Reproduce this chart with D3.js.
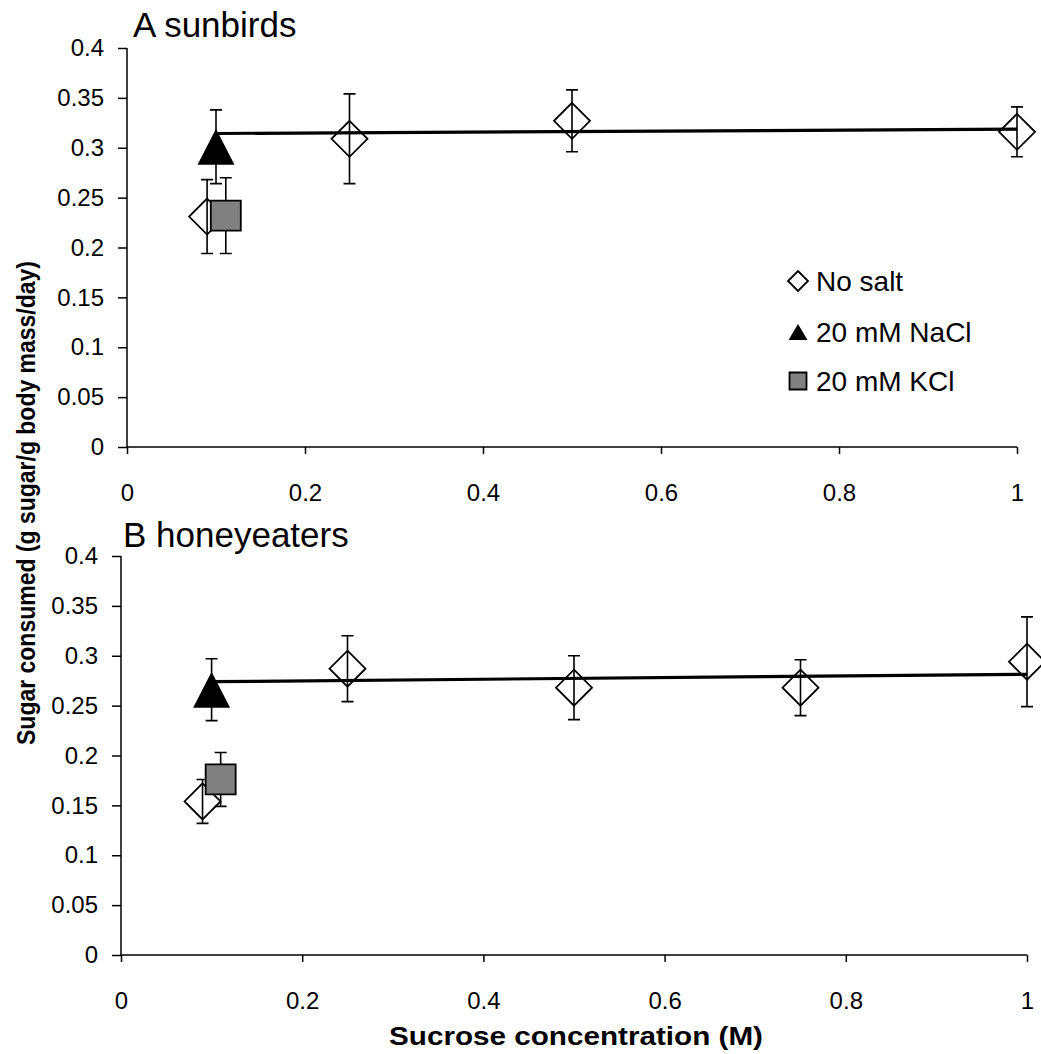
<!DOCTYPE html>
<html>
<head>
<meta charset="utf-8">
<script src="https://cdn.jsdelivr.net/npm/d3@7"></script>
<style>
  body { margin: 0; background: #fff; }
  svg { font-family: 'Liberation Sans', Arial, sans-serif; }
</style>
</head>
<body>
<div id="chart"></div>
<script>
const xTicks = [0, 0.2, 0.4, 0.6, 0.8, 1];
const yTicks = [0, 0.05, 0.1, 0.15, 0.2, 0.25, 0.3, 0.35, 0.4];

// panel A: sunbirds
const sunConc = [0.09, 0.25, 0.5, 1];
const sunNoSalt = [0.231, 0.309, 0.327, 0.316];
const sunNoSaltErr = [0.037, 0.045, 0.031, 0.025];
const sunNaCl = [0.1, 0.301, 0.037];
const sunKCl = [0.111, 0.232, 0.038];
const sunTrend = [[0.1, 0.3143], [1, 0.3186]];

// panel B: honeyeaters
const honConc = [0.09, 0.25, 0.5, 0.75, 1];
const honNoSalt = [0.154, 0.287, 0.268, 0.268, 0.294];
const honNoSaltErr = [0.022, 0.033, 0.032, 0.028, 0.045];
const honNaCl = [0.1, 0.266, 0.031];
const honKCl = [0.11, 0.176, 0.027];
const honTrend = [[0.1, 0.274], [1, 0.2814]];

const legendLabels = ['No salt', '20 mM NaCl', '20 mM KCl'];

const svg = d3.select('#chart')
  .append('svg')
    .attr('width', 1041)
    .attr('height', 1054);

const diamond = r => `M0,${-r}L${r},0L0,${r}L${-r},0Z`;
const triangle = (w, h) => `M0,${-h / 2}L${w / 2},${h / 2}L${-w / 2},${h / 2}Z`;
const square = s => `M${-s / 2},${-s / 2}h${s}v${s}h${-s}Z`;

function panel(opts) {
  const x = d3.scaleLinear().domain([0, 1]).range([opts.left, opts.right]);
  const y = d3.scaleLinear().domain([0, 0.4]).range([opts.bottom, opts.bottom - 399]);

  const g = svg.append('g');

  // axes
  const axisY = d3.axisLeft(y)
    .tickValues(yTicks)
    .tickSize(9)
    .tickPadding(14)
    .tickFormat(d => String(+d.toFixed(2)));
  const gy = g.append('g')
    .attr('transform', `translate(${opts.left},0)`)
    .call(axisY);

  const axisX = d3.axisBottom(x)
    .tickValues(xTicks)
    .tickSize(7)
    .tickPadding(30)
    .tickFormat(d => String(d));
  const gx = g.append('g')
    .attr('transform', `translate(0,${opts.bottom})`)
    .call(axisX);

  [gx, gy].forEach(a => {
    a.select('.domain').attr('stroke', '#000').attr('stroke-width', 1.5);
    a.selectAll('.tick line').attr('stroke', '#000').attr('stroke-width', 1.5);
    a.selectAll('.tick text')
      .attr('fill', '#000')
      .style('font-size', '24px')
      .style('font-family', "'Liberation Sans', Arial, sans-serif");
  });
  gx.select('.domain').attr('d', `M${opts.left},0H${opts.right}`);
  gy.select('.domain').attr('d', `M0,${y(0.4)}V${opts.bottom}`);

  g.append('text')
    .attr('x', opts.titleX)
    .attr('y', opts.titleY)
    .style('font-size', '35px')
    .text(opts.title);

  // error bars
  const bars = opts.conc.map((c, i) => [c, opts.noSalt[i], opts.noSaltErr[i]])
    .concat([opts.nacl, opts.kcl]);
  const eb = g.append('g')
    .attr('stroke', '#000')
    .attr('stroke-width', 1.6)
    .attr('fill', 'none');
  bars.forEach(([cx, cy, e]) => {
    eb.append('path')
      .attr('d', `M${x(cx)},${y(cy - e)}V${y(cy + e)}` +
        `M${x(cx) - 6},${y(cy + e)}h12M${x(cx) - 6},${y(cy - e)}h12`);
  });

  // trend line
  g.append('path')
    .attr('d', d3.line().x(d => x(d[0])).y(d => y(d[1]))(opts.trend))
    .attr('stroke', '#000')
    .attr('stroke-width', 3.2)
    .attr('fill', 'none');

  // markers
  g.append('g')
    .selectAll('path')
    .data(opts.conc)
    .enter()
    .append('path')
      .attr('transform', (d, i) => `translate(${x(d)},${y(opts.noSalt[i])})`)
      .attr('d', diamond(18))
      .attr('fill', 'none')
      .attr('stroke', '#000')
      .attr('stroke-width', 1.8);

  g.append('path')
    .attr('transform', `translate(${x(opts.nacl[0])},${y(opts.nacl[1])})`)
    .attr('d', triangle(37, 36))
    .attr('fill', '#000');

  g.append('path')
    .attr('transform', `translate(${x(opts.kcl[0])},${y(opts.kcl[1])})`)
    .attr('d', square(30))
    .attr('fill', '#808080')
    .attr('stroke', '#000')
    .attr('stroke-width', 1.8);

  return g;
}

panel({
  left: 127, right: 1017, bottom: 447,
  title: 'A sunbirds', titleX: 133, titleY: 37,
  conc: sunConc, noSalt: sunNoSalt, noSaltErr: sunNoSaltErr,
  nacl: sunNaCl, kcl: sunKCl, trend: sunTrend,
});

panel({
  left: 121, right: 1027, bottom: 955,
  title: 'B honeyeaters', titleX: 123, titleY: 547,
  conc: honConc, noSalt: honNoSalt, noSaltErr: honNoSaltErr,
  nacl: honNaCl, kcl: honKCl, trend: honTrend,
});

// legend
const legend = svg.append('g').attr('transform', 'translate(798,0)');
const legendRows = [281, 332, 381];
const legendMarks = [
  { d: diamond(10), fill: '#fff' },
  { d: triangle(19, 16), fill: '#000' },
  { d: square(17), fill: '#808080' },
];
legendLabels.forEach((label, i) => {
  legend.append('path')
    .attr('transform', `translate(0,${legendRows[i]})`)
    .attr('d', legendMarks[i].d)
    .attr('fill', legendMarks[i].fill)
    .attr('stroke', '#000')
    .attr('stroke-width', i === 1 ? 0 : 1.8);
  legend.append('text')
    .attr('x', 18)
    .attr('y', legendRows[i] + 10)
    .style('font-size', '28px')
    .text(label);
});

// axis titles
svg.append('text')
  .attr('x', 576)
  .attr('y', 1045)
  .attr('text-anchor', 'middle')
  .attr('textLength', 374)
  .attr('lengthAdjust', 'spacingAndGlyphs')
  .style('font-size', '26px')
  .style('font-weight', 'bold')
  .text('Sucrose concentration (M)');

svg.append('text')
  .attr('transform', 'translate(35,503) rotate(-90)')
  .attr('text-anchor', 'middle')
  .attr('textLength', 484)
  .attr('lengthAdjust', 'spacingAndGlyphs')
  .style('font-size', '26px')
  .style('font-weight', 'bold')
  .text('Sugar consumed (g sugar/g body mass/day)');
</script>
</body>
</html>
